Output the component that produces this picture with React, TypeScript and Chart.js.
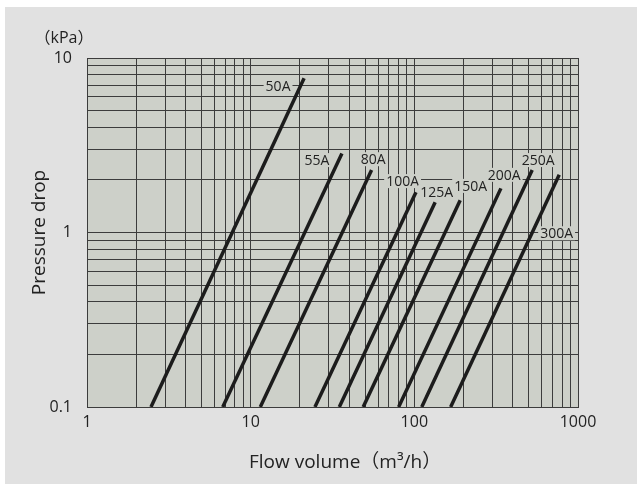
import { useEffect, useRef } from 'react';
import { Chart, registerables } from 'chart.js';

Chart.register(...registerables);

// ---- data ----
const seriesNames = ['50A', '55A', '80A', '100A', '125A', '150A', '200A', '250A', '300A'];
const startFlow = [2.46, 6.75, 11.45, 24.7, 34.8, 48.7, 80.2, 111, 166.7];
const startDrop = [0.1, 0.1, 0.1, 0.1, 0.1, 0.1, 0.1, 0.1, 0.1];
const endFlow = [21.2, 36.1, 54.8, 102.3, 134, 190.6, 338, 525, 768];
const endDrop = [7.65, 2.84, 2.28, 1.7, 1.49, 1.53, 1.79, 2.28, 2.14];
const labelFlow = [14.7, 25.4, 56.1, 84.8, 136.8, 220.8, 354, 571, 740];
const labelDrop = [6.94, 2.6, 2.63, 1.97, 1.71, 1.85, 2.14, 2.6, 0.99];

const xTickLabels = ['1', '10', '100', '1000'];
const yTickLabels = ['0.1', '1', '10'];
const xGridValues = [1, 2, 3, 4, 5, 6, 7, 8, 9, 10, 20, 30, 40, 50, 60, 70, 80, 90, 100, 200, 300, 400, 500, 600, 700, 800, 900, 1000];
const yGridValues = [0.1, 0.2, 0.3, 0.4, 0.5, 0.6, 0.7, 0.8, 0.9, 1, 2, 3, 4, 5, 6, 7, 8, 9, 10];

const xTitle = 'Flow volume（m³/h）';
const yTitle = 'Pressure drop';
const unitLabel = '（kPa）';

// ---- styles ----
const FONT = '"Open Sans", "Noto Sans CJK JP", sans-serif';
const PLOT_BG = '#cdd0c9';
const OUTER_BG = '#e1e1e1';
const GRID = '#3c3c3c';
const TEXT = '#222222';
const LINE = '#1c1c1c';

const plotBgPlugin = {
  id: 'plotBg',
  beforeDraw(chart: any) {
    const { ctx, chartArea } = chart;
    ctx.save();
    ctx.fillStyle = PLOT_BG;
    ctx.fillRect(chartArea.left, chartArea.top, chartArea.right - chartArea.left, chartArea.bottom - chartArea.top);
    ctx.restore();
  },
};

const lineLabelPlugin = {
  id: 'lineLabels',
  afterDatasetsDraw(chart: any) {
    const { ctx } = chart;
    const xs = chart.scales.x;
    const ys = chart.scales.y;
    ctx.save();
    ctx.font = `14px ${FONT}`;
    ctx.textAlign = 'center';
    ctx.textBaseline = 'middle';
    seriesNames.forEach((name, i) => {
      const px = xs.getPixelForValue(labelFlow[i]);
      const py = ys.getPixelForValue(labelDrop[i]);
      const w = ctx.measureText(name).width;
      ctx.fillStyle = PLOT_BG;
      ctx.fillRect(px - w / 2 - 2, py - 7, w + 4, 14);
      ctx.fillStyle = TEXT;
      ctx.fillText(name, px, py + 1);
    });
    ctx.restore();
  },
};

const titlePlugin = {
  id: 'titles',
  afterDraw(chart: any) {
    const { ctx, chartArea } = chart;
    ctx.save();
    ctx.fillStyle = TEXT;
    // x title
    ctx.font = `19px ${FONT}`;
    ctx.textAlign = 'left';
    ctx.textBaseline = 'alphabetic';
    ctx.fillText(xTitle, chartArea.left + 162, chartArea.bottom + 61);
    // y title
    ctx.save();
    ctx.translate(chartArea.left - 42, (chartArea.top + chartArea.bottom) / 2);
    ctx.rotate(-Math.PI / 2);
    ctx.textAlign = 'center';
    ctx.fillText(yTitle, 0, 0);
    ctx.restore();
    // unit
    ctx.font = `16px ${FONT}`;
    ctx.textAlign = 'center';
    ctx.fillText(unitLabel, chartArea.left - 23, chartArea.top - 15);
    ctx.restore();
  },
};

export default function App() {
  const ref = useRef<HTMLCanvasElement | null>(null);

  useEffect(() => {
    if (!ref.current) return;
    const datasets = seriesNames.map((name, i) => ({
      label: name,
      data: [
        { x: startFlow[i], y: startDrop[i] },
        { x: endFlow[i], y: endDrop[i] },
      ],
      showLine: true,
      borderColor: LINE,
      backgroundColor: LINE,
      borderWidth: 3.5,
      borderCapStyle: 'butt',
      pointRadius: 0,
      pointHoverRadius: 0,
    }));

    const chart = new Chart(ref.current, {
      type: 'scatter',
      data: { datasets } as any,
      options: {
        animation: false,
        responsive: false,
        maintainAspectRatio: false,
        devicePixelRatio: 1,
        layout: { padding: { left: 0, top: 51, right: 59, bottom: 0 } },
        plugins: {
          legend: { display: false },
          tooltip: { enabled: false },
          title: { display: false },
        },
        scales: {
          x: {
            type: 'logarithmic',
            min: 1,
            max: 1000,
            afterBuildTicks: (s: any) => {
              s.ticks = xGridValues.map((v) => ({ value: v }));
            },
            afterFit: (s: any) => {
              s.height = 77;
            },
            ticks: {
              autoSkip: false,
              maxRotation: 0,
              padding: 6,
              color: TEXT,
              font: { family: FONT, size: 16 },
              callback: (v: any) => (xTickLabels.includes(String(v)) ? String(v) : ''),
            },
            grid: { color: GRID, lineWidth: 1, drawTicks: false },
            border: { color: GRID, width: 1 },
          },
          y: {
            type: 'logarithmic',
            min: 0.1,
            max: 10,
            afterBuildTicks: (s: any) => {
              s.ticks = yGridValues.map((v) => ({ value: v }));
            },
            afterFit: (s: any) => {
              s.width = 82;
            },
            ticks: {
              autoSkip: false,
              padding: 15,
              color: TEXT,
              font: { family: FONT, size: 16 },
              callback: (v: any) => (yTickLabels.includes(String(v)) ? String(v) : ''),
            },
            grid: { color: GRID, lineWidth: 1, drawTicks: false },
            border: { color: GRID, width: 1 },
          },
        },
      } as any,
      plugins: [plotBgPlugin, lineLabelPlugin, titlePlugin],
    });
    return () => chart.destroy();
  }, []);

  return (
    <div style={{ position: 'fixed', left: 0, top: 0, width: 637, height: 484, background: '#ffffff' }}>
      <div style={{ position: 'absolute', left: 5, top: 7, width: 632, height: 477, background: OUTER_BG }}>
        <canvas ref={ref} width={632} height={477} style={{ display: 'block', width: 632, height: 477 }} />
      </div>
    </div>
  );
}
